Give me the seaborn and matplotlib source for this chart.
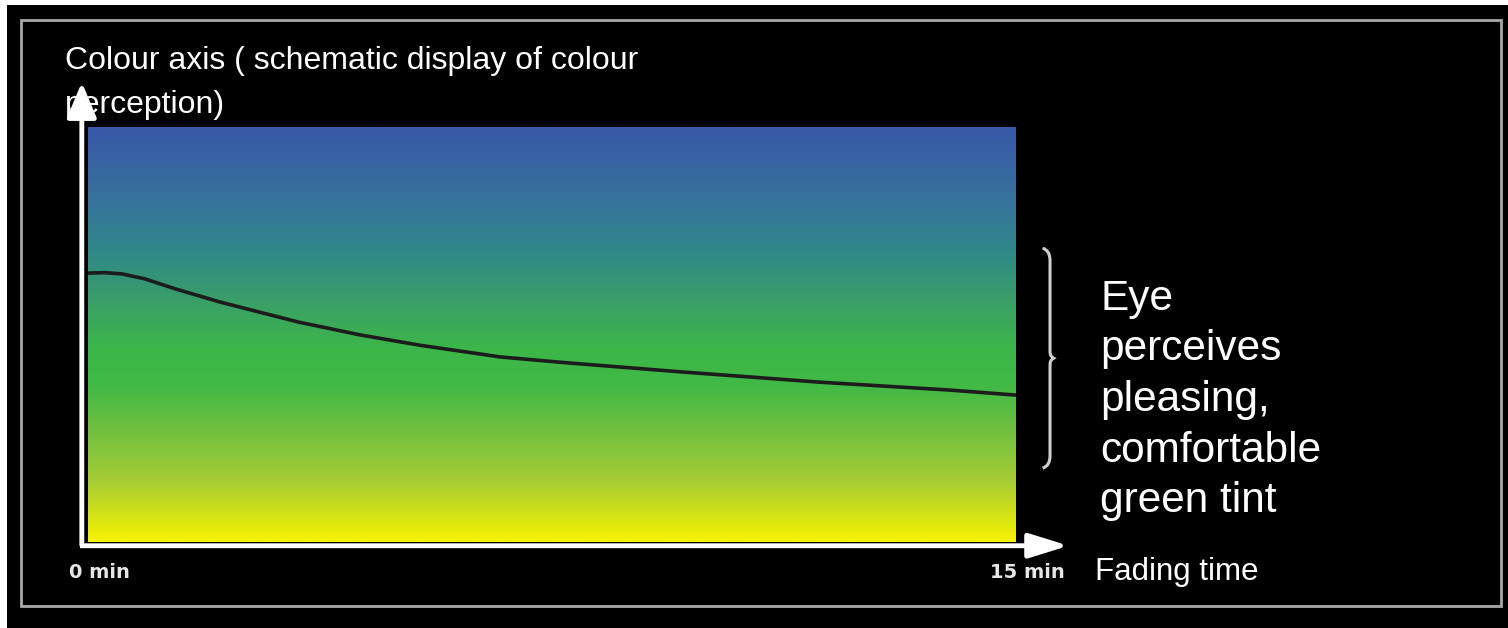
import matplotlib
matplotlib.use("Agg")
import matplotlib.pyplot as plt
import seaborn as sns
import numpy as np
import pandas as pd
from matplotlib.colors import LinearSegmentedColormap
from matplotlib.patches import Rectangle, PathPatch
from matplotlib.path import Path

# ---- data ----
fading_time_min = [0.0, 0.27, 0.55, 0.92, 1.41, 2.14, 3.40, 4.40, 5.37, 6.66, 7.64, 9.58, 11.84, 13.94, 15.0]
colour_perception = [64.8, 64.9, 64.6, 63.4, 61.0, 57.8, 53.0, 49.9, 47.4, 44.6, 43.3, 41.0, 38.5, 36.6, 35.4]
tick_labels = ["0 min", "15 min"]
y_label = "Colour axis ( schematic display of colour\nperception)"
x_label = "Fading time"
note = "Eye\nperceives\npleasing,\ncomfortable\ngreen tint"
# gradient stops (0 = bottom / yellow, 1 = top / blue)
grad_pos = [0.0, 0.15, 0.28, 0.38, 0.47, 0.58, 0.70, 0.80, 1.0]
grad_col = ["#f6f200", "#a5cc35", "#6abf40", "#40b946", "#3cb64a",
            "#3a9f68", "#2f8888", "#36779a", "#3858a8"]
comfort_band = [17.8, 70.8]

sns.set_theme(style="white")
plt.rcParams['font.family'] = ['Liberation Sans', 'DejaVu Sans']

W, H = 1508, 628
fig = plt.figure(figsize=(W / 100, H / 100), dpi=100, facecolor="black")

# white edge strips and grey frame
fig.add_artist(Rectangle((0, 1 - 5 / H), 1, 5 / H, transform=fig.transFigure,
                         facecolor="white", edgecolor="none"))
fig.add_artist(Rectangle((0, 0), 7 / W, 1, transform=fig.transFigure,
                         facecolor="white", edgecolor="none"))
fig.add_artist(Rectangle((21 / W, 1 - 606 / H), (1501 - 21) / W, (606 - 20) / H,
                         transform=fig.transFigure, facecolor="none",
                         edgecolor="#a8a8a8", lw=2))

ax = fig.add_axes([88 / W, 1 - 542 / H, 928 / W, 415 / H])
ax.set_facecolor("black")

cmap = LinearSegmentedColormap.from_list("perc", list(zip(grad_pos, grad_col)))
grad = np.linspace(0, 1, 512).reshape(-1, 1)
ax.imshow(grad, extent=[0, 15, 0, 100], origin="lower", aspect="auto", cmap=cmap,
          interpolation="bilinear", zorder=0)

df = pd.DataFrame({"t": fading_time_min, "c": colour_perception})
sns.lineplot(data=df, x="t", y="c", ax=ax, color="#1c1c1c", lw=2.6, zorder=3)

ax.set_xlim(0, 15)
ax.set_ylim(0, 100)
for s in ax.spines.values():
    s.set_visible(False)
ax.set_xticks([])
ax.set_yticks([])
ax.set_xlabel("")
ax.set_ylabel("")

# axis arrows
ap = dict(arrowstyle="-|>,head_length=1.35,head_width=0.42", color="white", lw=3.5,
          shrinkA=0, shrinkB=0, mutation_scale=18, capstyle="butt")
ax.annotate("", xy=(15.85, -0.9), xytext=(-0.13, -0.9), xycoords="data",
            arrowprops=ap, annotation_clip=False)
ap2 = dict(ap)
ap2["arrowstyle"] = "-|>,head_length=1.2,head_width=0.5"
ax.annotate("", xy=(-0.1, 110.8), xytext=(-0.1, -0.9), xycoords="data",
            arrowprops=ap2, annotation_clip=False)

# tick labels
ax.text(0.19, -7.3, tick_labels[0], ha="center", va="center", color="#e6e6e6",
        fontsize=14, fontweight="bold", family=["DejaVu Sans"], clip_on=False)
ax.text(15.18, -7.3, tick_labels[1], ha="center", va="center", color="#e6e6e6",
        fontsize=14, fontweight="bold", family=["DejaVu Sans"], clip_on=False)

# comfort brace
x0 = 15.43
yb, yt = comfort_band
ym = (yb + yt) / 2
dx = 0.12
verts = [(x0, yt), (x0 + dx, yt - 0.5), (x0 + dx, yt - 3),
         (x0 + dx, ym + 2), (x0 + dx, ym + 1), (x0 + dx, ym + 0.5), (x0 + 0.18, ym),
         (x0 + dx, ym - 0.5), (x0 + dx, ym - 1), (x0 + dx, ym - 2),
         (x0 + dx, yb + 3), (x0 + dx, yb + 0.5), (x0, yb)]
codes = [Path.MOVETO, Path.CURVE3, Path.CURVE3,
         Path.LINETO, Path.CURVE4, Path.CURVE4, Path.CURVE4,
         Path.CURVE4, Path.CURVE4, Path.CURVE4,
         Path.LINETO, Path.CURVE3, Path.CURVE3]
brace = PathPatch(Path(verts, codes), facecolor="none", edgecolor="#cfcfcf", lw=2.2,
                  clip_on=False)
ax.add_patch(brace)

# texts
fig.text(65 / W, 1 - 46 / H, y_label, ha="left", va="top", color="white",
         fontsize=23, linespacing=1.6)
fig.text(1095 / W, 1 - 572 / H, x_label, ha="left", va="center", color="white",
         fontsize=22.5)
fig.text(1100 / W, 1 - 400 / H, note, ha="left", va="center", color="white",
         fontsize=30.5, linespacing=1.34)

fig.savefig("out.png", dpi=100, facecolor="black")
